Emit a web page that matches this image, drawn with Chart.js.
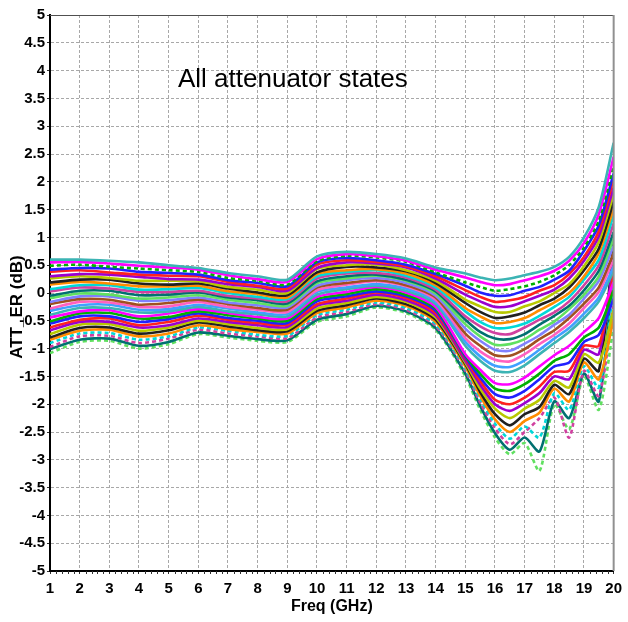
<!DOCTYPE html>
<html>
<head>
<meta charset="utf-8">
<script src="https://cdn.jsdelivr.net/npm/chart.js@4.4.0/dist/chart.umd.min.js"></script>
<style>
  html, body { margin: 0; padding: 0; background: #fff; }
  #wrap { width: 628px; height: 622px; }
</style>
</head>
<body>
<div id="wrap"><canvas id="attChart" width="628" height="622"></canvas></div>
<script>
// frequency points (GHz) shared by every attenuator state
const freqs = [1, 2, 3, 4, 5, 6, 7, 8, 9, 10, 11, 12, 13, 14, 15, 15.5, 16, 16.5, 17, 17.5, 18, 18.5, 19, 19.5, 20];

// ATT_ER (dB) per state
const s01 = [0.60, 0.60, 0.58, 0.55, 0.50, 0.45, 0.36, 0.30, 0.24, 0.66, 0.74, 0.70, 0.62, 0.46, 0.35, 0.28, 0.23, 0.26, 0.32, 0.38, 0.47, 0.65, 1.00, 1.55, 2.70];
const s02 = [0.55, 0.56, 0.53, 0.49, 0.46, 0.42, 0.32, 0.25, 0.20, 0.61, 0.70, 0.66, 0.58, 0.42, 0.28, 0.20, 0.14, 0.16, 0.23, 0.30, 0.40, 0.58, 0.90, 1.42, 2.45];
const s03 = [0.49, 0.51, 0.47, 0.44, 0.41, 0.38, 0.27, 0.22, 0.15, 0.57, 0.67, 0.64, 0.56, 0.37, 0.19, 0.11, 0.04, 0.07, 0.12, 0.20, 0.32, 0.50, 0.82, 1.30, 2.30];
const s04 = [0.42, 0.45, 0.44, 0.38, 0.36, 0.33, 0.23, 0.18, 0.12, 0.55, 0.63, 0.59, 0.51, 0.34, 0.13, 0.01, -0.05, -0.04, 0.04, 0.11, 0.24, 0.40, 0.76, 1.22, 2.15];
const s05 = [0.38, 0.41, 0.37, 0.33, 0.31, 0.30, 0.20, 0.13, 0.08, 0.51, 0.59, 0.56, 0.48, 0.30, 0.05, -0.07, -0.16, -0.13, -0.07, 0.04, 0.14, 0.34, 0.65, 1.12, 2.05];
const s06 = [0.30, 0.34, 0.33, 0.29, 0.25, 0.24, 0.16, 0.11, 0.04, 0.45, 0.55, 0.53, 0.46, 0.26, -0.03, -0.15, -0.25, -0.24, -0.15, -0.05, 0.06, 0.26, 0.58, 1.02, 1.90];
const s07 = [0.26, 0.30, 0.27, 0.22, 0.22, 0.21, 0.11, 0.06, 0.00, 0.43, 0.50, 0.51, 0.41, 0.22, -0.12, -0.24, -0.34, -0.34, -0.24, -0.15, 0.00, 0.16, 0.48, 0.92, 1.78];
const s08 = [0.19, 0.24, 0.24, 0.17, 0.15, 0.17, 0.08, 0.01, -0.04, 0.37, 0.47, 0.46, 0.39, 0.18, -0.18, -0.34, -0.45, -0.42, -0.35, -0.22, -0.10, 0.10, 0.41, 0.80, 1.65];
const s09 = [0.15, 0.20, 0.17, 0.12, 0.12, 0.13, 0.03, -0.02, -0.08, 0.34, 0.41, 0.43, 0.35, 0.14, -0.27, -0.42, -0.54, -0.52, -0.45, -0.31, -0.17, 0.00, 0.30, 0.72, 1.52];
const s10 = [0.07, 0.14, 0.14, 0.06, 0.07, 0.09, 0.00, -0.07, -0.11, 0.30, 0.38, 0.41, 0.31, 0.10, -0.33, -0.52, -0.63, -0.62, -0.55, -0.41, -0.25, -0.07, 0.24, 0.60, 1.40];
const s11 = [0.03, 0.10, 0.08, 0.02, 0.02, 0.04, -0.05, -0.10, -0.15, 0.26, 0.35, 0.36, 0.28, 0.06, -0.42, -0.60, -0.72, -0.74, -0.62, -0.48, -0.35, -0.15, 0.14, 0.50, 1.25];
const s12 = [-0.05, 0.04, 0.04, -0.04, -0.03, 0.01, -0.08, -0.13, -0.19, 0.21, 0.30, 0.33, 0.24, 0.03, -0.48, -0.70, -0.82, -0.83, -0.74, -0.57, -0.41, -0.23, 0.05, 0.40, 1.10];
const s13 = [-0.09, -0.01, -0.03, -0.10, -0.08, -0.04, -0.12, -0.18, -0.23, 0.18, 0.26, 0.31, 0.22, -0.01, -0.56, -0.78, -0.93, -0.92, -0.83, -0.66, -0.51, -0.29, -0.03, 0.30, 0.98];
const s14 = [-0.16, -0.06, -0.06, -0.14, -0.13, -0.08, -0.17, -0.22, -0.26, 0.13, 0.23, 0.27, 0.18, -0.05, -0.64, -0.86, -1.02, -1.04, -0.91, -0.76, -0.57, -0.39, -0.10, 0.22, 0.85];
const s15 = [-0.20, -0.11, -0.12, -0.21, -0.18, -0.12, -0.20, -0.27, -0.30, 0.10, 0.18, 0.23, 0.14, -0.08, -0.73, -0.95, -1.12, -1.13, -1.01, -0.83, -0.67, -0.45, -0.19, 0.10, 0.72];
const s16 = [-0.28, -0.16, -0.17, -0.25, -0.24, -0.16, -0.25, -0.30, -0.34, 0.05, 0.15, 0.21, 0.12, -0.12, -0.81, -1.05, -1.20, -1.23, -1.10, -0.92, -0.75, -0.55, -0.27, 0.02, 0.60];
const s17 = [-0.32, -0.22, -0.21, -0.30, -0.29, -0.21, -0.28, -0.35, -0.38, 0.02, 0.10, 0.16, 0.08, -0.16, -0.88, -1.14, -1.31, -1.33, -1.21, -1.02, -0.82, -0.63, -0.37, -0.08, 0.48];
const s18 = [-0.39, -0.27, -0.27, -0.35, -0.33, -0.25, -0.33, -0.38, -0.42, -0.03, 0.07, 0.13, 0.04, -0.20, -0.95, -1.22, -1.40, -1.42, -1.30, -1.10, -0.90, -0.70, -0.45, -0.15, 0.40];
const s19 = [-0.44, -0.33, -0.31, -0.42, -0.37, -0.29, -0.36, -0.43, -0.46, -0.07, 0.02, 0.11, 0.01, -0.25, -1.10, -1.38, -1.62, -1.64, -1.52, -1.32, -1.12, -0.95, -0.70, -0.45, 0.20];
const s20 = [-0.51, -0.37, -0.36, -0.46, -0.43, -0.33, -0.40, -0.46, -0.50, -0.11, -0.02, 0.07, -0.03, -0.28, -1.12, -1.45, -1.72, -1.76, -1.64, -1.45, -1.22, -1.10, -0.80, -0.62, 0.05];
const s21 = [-0.55, -0.42, -0.42, -0.52, -0.47, -0.37, -0.45, -0.50, -0.54, -0.15, -0.06, 0.03, -0.06, -0.32, -1.15, -1.52, -1.82, -1.88, -1.76, -1.55, -1.32, -1.25, -0.88, -0.75, -0.10];
const s22 = [-0.62, -0.48, -0.46, -0.58, -0.52, -0.41, -0.48, -0.54, -0.57, -0.20, -0.10, 0.01, -0.09, -0.36, -1.18, -1.58, -1.92, -2.00, -1.88, -1.68, -1.42, -1.40, -0.95, -0.95, 0.35];
const s23 = [-0.67, -0.52, -0.52, -0.62, -0.58, -0.46, -0.52, -0.58, -0.61, -0.23, -0.14, -0.03, -0.13, -0.40, -1.22, -1.65, -2.00, -2.12, -1.98, -1.80, -1.50, -1.55, -1.02, -1.10, 0.60];
const s24 = [-0.74, -0.57, -0.56, -0.68, -0.62, -0.50, -0.56, -0.63, -0.65, -0.28, -0.18, -0.07, -0.16, -0.44, -1.25, -1.72, -2.08, -2.25, -2.08, -1.92, -1.58, -1.70, -1.10, -1.25, -0.30];
const s25 = [-0.80, -0.63, -0.62, -0.73, -0.67, -0.53, -0.60, -0.67, -0.69, -0.32, -0.22, -0.10, -0.20, -0.48, -1.28, -1.78, -2.18, -2.38, -2.18, -2.05, -1.65, -1.82, -1.18, -1.40, 0.90];
const s26 = [-0.84, -0.68, -0.66, -0.78, -0.73, -0.58, -0.65, -0.70, -0.73, -0.36, -0.26, -0.14, -0.23, -0.52, -1.32, -1.85, -2.27, -2.50, -2.30, -2.15, -1.72, -1.95, -1.25, -1.55, -0.45];
const s27 = [-0.90, -0.73, -0.72, -0.84, -0.78, -0.62, -0.68, -0.75, -0.77, -0.40, -0.30, -0.17, -0.27, -0.56, -1.36, -1.90, -2.35, -2.62, -2.40, -2.60, -1.80, -2.10, -1.32, -1.70, 0.10];
const s28 = [-0.97, -0.78, -0.77, -0.90, -0.82, -0.66, -0.73, -0.78, -0.81, -0.44, -0.34, -0.20, -0.30, -0.59, -1.40, -1.97, -2.43, -2.72, -2.50, -2.25, -1.88, -2.60, -1.40, -1.85, -0.20];
const s29 = [-1.01, -0.84, -0.82, -0.95, -0.88, -0.71, -0.77, -0.83, -0.85, -0.48, -0.38, -0.23, -0.33, -0.63, -1.45, -2.03, -2.52, -2.82, -2.60, -2.85, -1.95, -2.25, -1.45, -1.95, 0.50];
const s30 = [-1.08, -0.88, -0.86, -1.00, -0.92, -0.74, -0.80, -0.86, -0.88, -0.52, -0.42, -0.26, -0.36, -0.66, -1.50, -2.10, -2.60, -2.90, -2.70, -3.20, -2.00, -2.45, -1.50, -2.10, -0.60];

const states = [s01, s02, s03, s04, s05, s06, s07, s08, s09, s10, s11, s12, s13, s14, s15,
                s16, s17, s18, s19, s20, s21, s22, s23, s24, s25, s26, s27, s28, s29, s30];

const lineColors = ['#3cb4b4', '#ff00ff', '#00b000', '#2020ff', '#ff2020', '#9a00d0', '#b8c800', '#202020',
                    '#ff8c00', '#00d8d8', '#d040a0', '#007070', '#60e060', '#8080ff', '#a05020', '#ff60c0', '#40a0ff'];
const dashedStates = [2, 26, 27, 29];

const fontFamily = '"Liberation Sans", Arial, sans-serif';

const datasets = states.map((vals, i) => ({
  label: 'state ' + (i + 1),
  data: freqs.map((f, k) => ({ x: f, y: vals[k] })),
  borderColor: lineColors[i % lineColors.length],
  borderWidth: 2.6,
  borderDash: dashedStates.includes(i) ? [4, 3] : [],
  pointRadius: 0,
  tension: 0.25,
  fill: false
}));

const extrasPlugin = {
  id: 'extras',
  afterDraw(chart) {
    const c = chart.ctx;
    const a = chart.chartArea;
    const xs = chart.scales.x;
    c.save();
    // top and right frame
    c.strokeStyle = '#505050';
    c.lineWidth = 1;
    c.beginPath();
    c.moveTo(a.left, a.top + 0.5);
    c.lineTo(a.right, a.top + 0.5);
    c.stroke();
    c.strokeStyle = '#909090';
    c.lineWidth = 2;
    c.beginPath();
    c.moveTo(a.right, a.top);
    c.lineTo(a.right, a.bottom);
    c.stroke();
    // minor ticks on the frequency axis
    c.strokeStyle = '#303030';
    c.lineWidth = 1;
    for (let k = 0; k <= 95; k++) {
      if (k % 5 === 0) continue;
      const px = Math.round(xs.getPixelForValue(1 + k * 0.2)) + 0.5;
      c.beginPath();
      c.moveTo(px, a.bottom);
      c.lineTo(px, a.bottom + 3);
      c.stroke();
    }
    // texts
    c.fillStyle = '#000';
    c.textAlign = 'left';
    c.textBaseline = 'alphabetic';
    c.font = '26px ' + fontFamily;
    c.fillText('All attenuator states', 178, 87);

    c.textAlign = 'center';
    c.textBaseline = 'middle';
    c.font = 'bold 16px ' + fontFamily;
    c.fillText('Freq (GHz)', (a.left + a.right) / 2, 607);

    c.translate(17, 307);
    c.rotate(-Math.PI / 2);
    c.font = 'bold 17px ' + fontFamily;
    c.fillText('ATT_ER (dB)', 0, 0);
    c.restore();
  }
};

const ctx = document.getElementById('attChart').getContext('2d');

new Chart(ctx, {
  type: 'line',
  data: { datasets: datasets },
  options: {
    responsive: false,
    animation: false,
    devicePixelRatio: 1,
    layout: { padding: { top: 15, right: 8, left: 0, bottom: 0 } },
    plugins: {
      legend: { display: false },
      tooltip: { enabled: false }
    },
    scales: {
      x: {
        type: 'linear',
        min: 1,
        max: 20,
        afterFit: scale => { scale.height = 51; },
        ticks: {
          stepSize: 1,
          autoSkip: false,
          maxRotation: 0,
          padding: 6,
          color: '#000',
          font: { family: fontFamily, size: 15, weight: 'bold' }
        },
        grid: { color: '#a8a8a8', lineWidth: 1, tickLength: 3, tickColor: '#303030' },
        border: { display: true, color: '#000', width: 2, dash: [3, 2] }
      },
      y: {
        min: -5,
        max: 5,
        afterFit: scale => { scale.width = 50; },
        ticks: {
          stepSize: 0.5,
          autoSkip: false,
          padding: 2,
          color: '#000',
          font: { family: fontFamily, size: 15, weight: 'bold' },
          callback: v => String(v)
        },
        grid: { color: '#a8a8a8', lineWidth: 1, tickLength: 3, tickColor: '#303030' },
        border: { display: true, color: '#000', width: 2, dash: [3, 2] }
      }
    }
  },
  plugins: [extrasPlugin]
});
</script>
</body>
</html>
